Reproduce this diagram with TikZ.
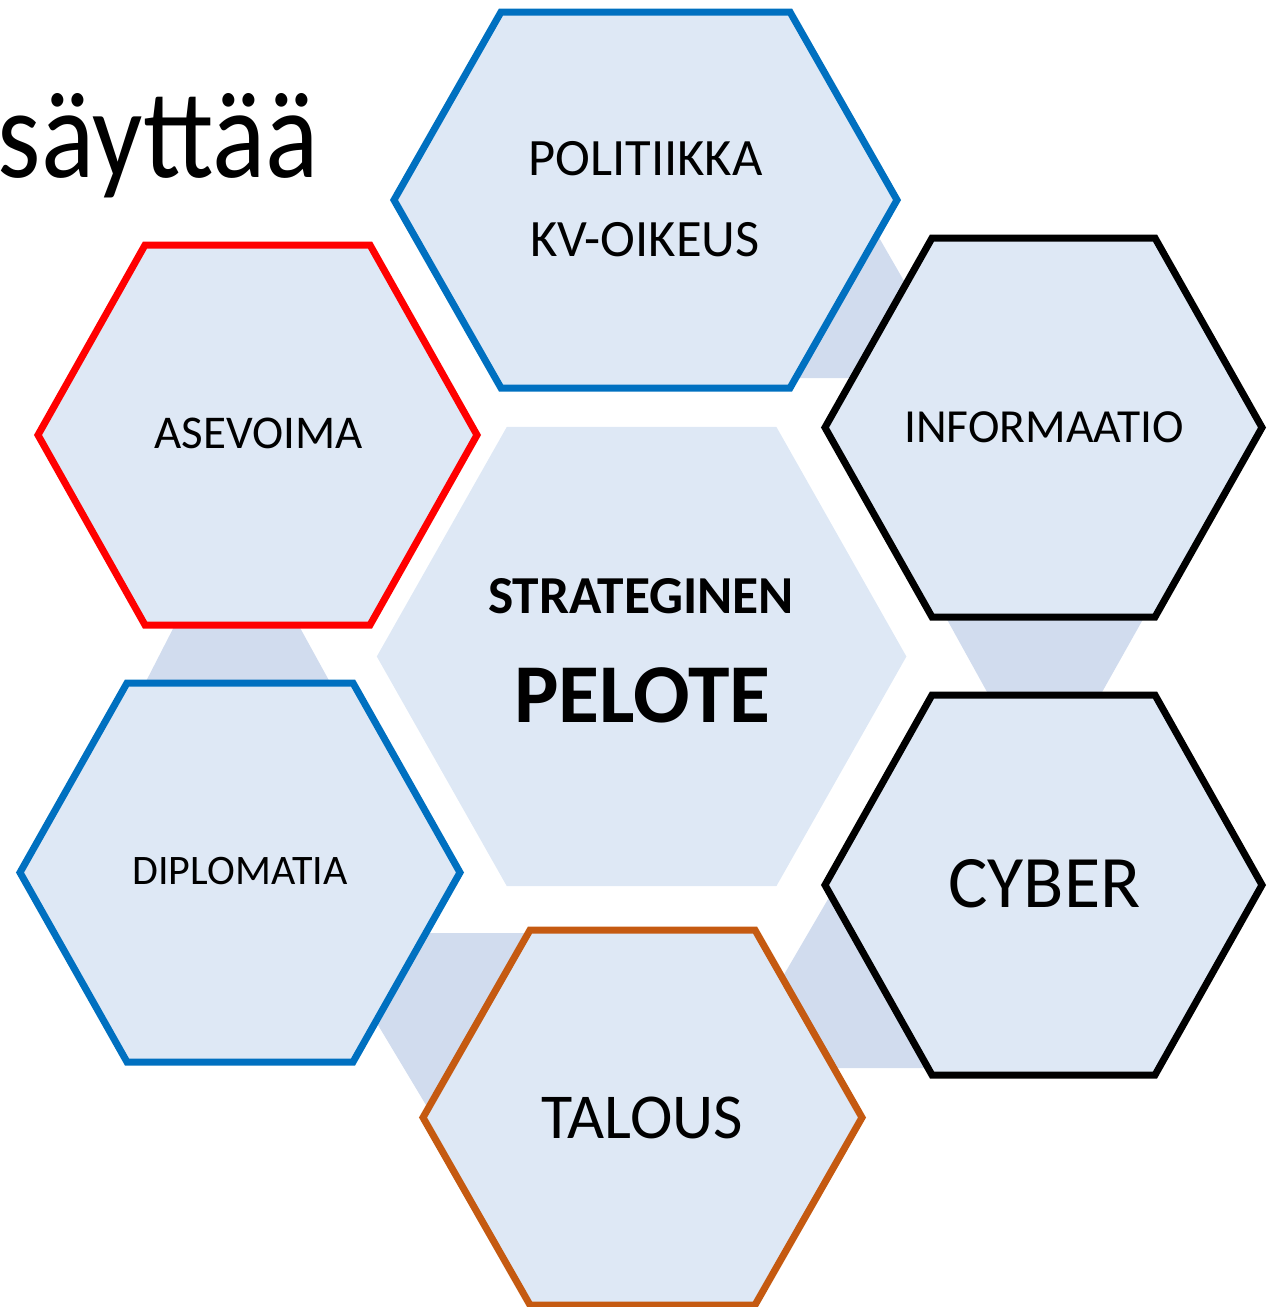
\documentclass[tikz,border=0pt]{standalone}
\usepackage{fontspec}
\setmainfont{Carlito}
\definecolor{hexfill}{RGB}{222,232,245}
\definecolor{linkfill}{RGB}{209,220,238}
\definecolor{bluel}{RGB}{0,112,192}
\definecolor{redl}{RGB}{255,0,0}
\definecolor{orangel}{RGB}{197,90,17}
\newcommand{\hexshape}[6]{\path[#6] ({#1-#3},#2) -- ({#1-#3+#5},{#2-#4}) -- ({#1+#3-#5},{#2-#4}) -- ({#1+#3},#2) -- ({#1+#3-#5},{#2+#4}) -- ({#1-#3+#5},{#2+#4}) -- cycle;}
\tikzset{
  hexbox/.style={fill=hexfill, line width=7pt, line join=miter, miter limit=10},
  link/.style={fill=linkfill, draw=none},
  lbl/.style={anchor=base, inner sep=0pt, text=black},
}
\begin{document}
\begin{tikzpicture}[x=1pt,y=-1pt]
\useasboundingbox (0,0) rectangle (1278,1307);
% connectors (behind hexagons)
\fill[link] (870,222) -- (915,300) -- (870,378) -- (780,378) -- cycle;
\fill[link] (939,605) -- (1151,605) -- (1092,710) -- (997,710) -- cycle;
\fill[link] (845,870) -- (775,990) -- (815,1068) -- (945,1068) -- cycle;
\fill[link] (400,933) -- (545,933) -- (480,1060) -- (432,1115) -- (363,1000) -- cycle;
\fill[link] (180,615) -- (293,615) -- (337,695) -- (139,695) -- cycle;
% hexagons
\hexshape{641.6}{656.5}{264.8}{229.6}{130}{fill=hexfill}
\hexshape{645.5}{200}{251.5}{188}{107}{hexbox, draw=bluel}
\hexshape{1043.5}{427.5}{218.5}{189.5}{107}{hexbox, draw=black}
\hexshape{1043.5}{885}{218.5}{190}{107}{hexbox, draw=black}
\hexshape{642.5}{1117.5}{219.5}{187.5}{107}{hexbox, draw=orangel}
\hexshape{240}{872.5}{220}{189.5}{107}{hexbox, draw=bluel}
\hexshape{257.5}{435}{219.5}{190}{107}{hexbox, draw=redl}
% texts
\node[lbl, anchor=base east] (title) at (319,177) {\scalebox{0.875}[1]{\fontsize{127}{135}\selectfont säyttää}};
\node[lbl] (pol) at (645.5,175) {\fontsize{52.5}{60}\selectfont POLITIIKKA};
\node[lbl] (kv) at (645,256) {\fontsize{52.5}{60}\selectfont KV-OIKEUS};
\node[lbl] (inf) at (1044,442) {\fontsize{47.5}{55}\selectfont INFORMAATIO};
\node[lbl] (ase) at (258.5,448) {\fontsize{47}{55}\selectfont ASEVOIMA};
\node[lbl] (dip) at (240,884) {\fontsize{42}{50}\selectfont DIPLOMATIA};
\node[lbl] (cyb) at (1044.5,907) {\fontsize{74}{80}\selectfont CYBER};
\node[lbl] (tal) at (642.5,1138) {\fontsize{64}{72}\selectfont TALOUS};
\node[lbl] (str) at (641,613) {\fontsize{53.4}{60}\selectfont\bfseries STRATEGINEN};
\node[lbl] (pel) at (642.5,722) {\fontsize{83.7}{92}\selectfont\bfseries PELOTE};
\end{tikzpicture}
\end{document}
